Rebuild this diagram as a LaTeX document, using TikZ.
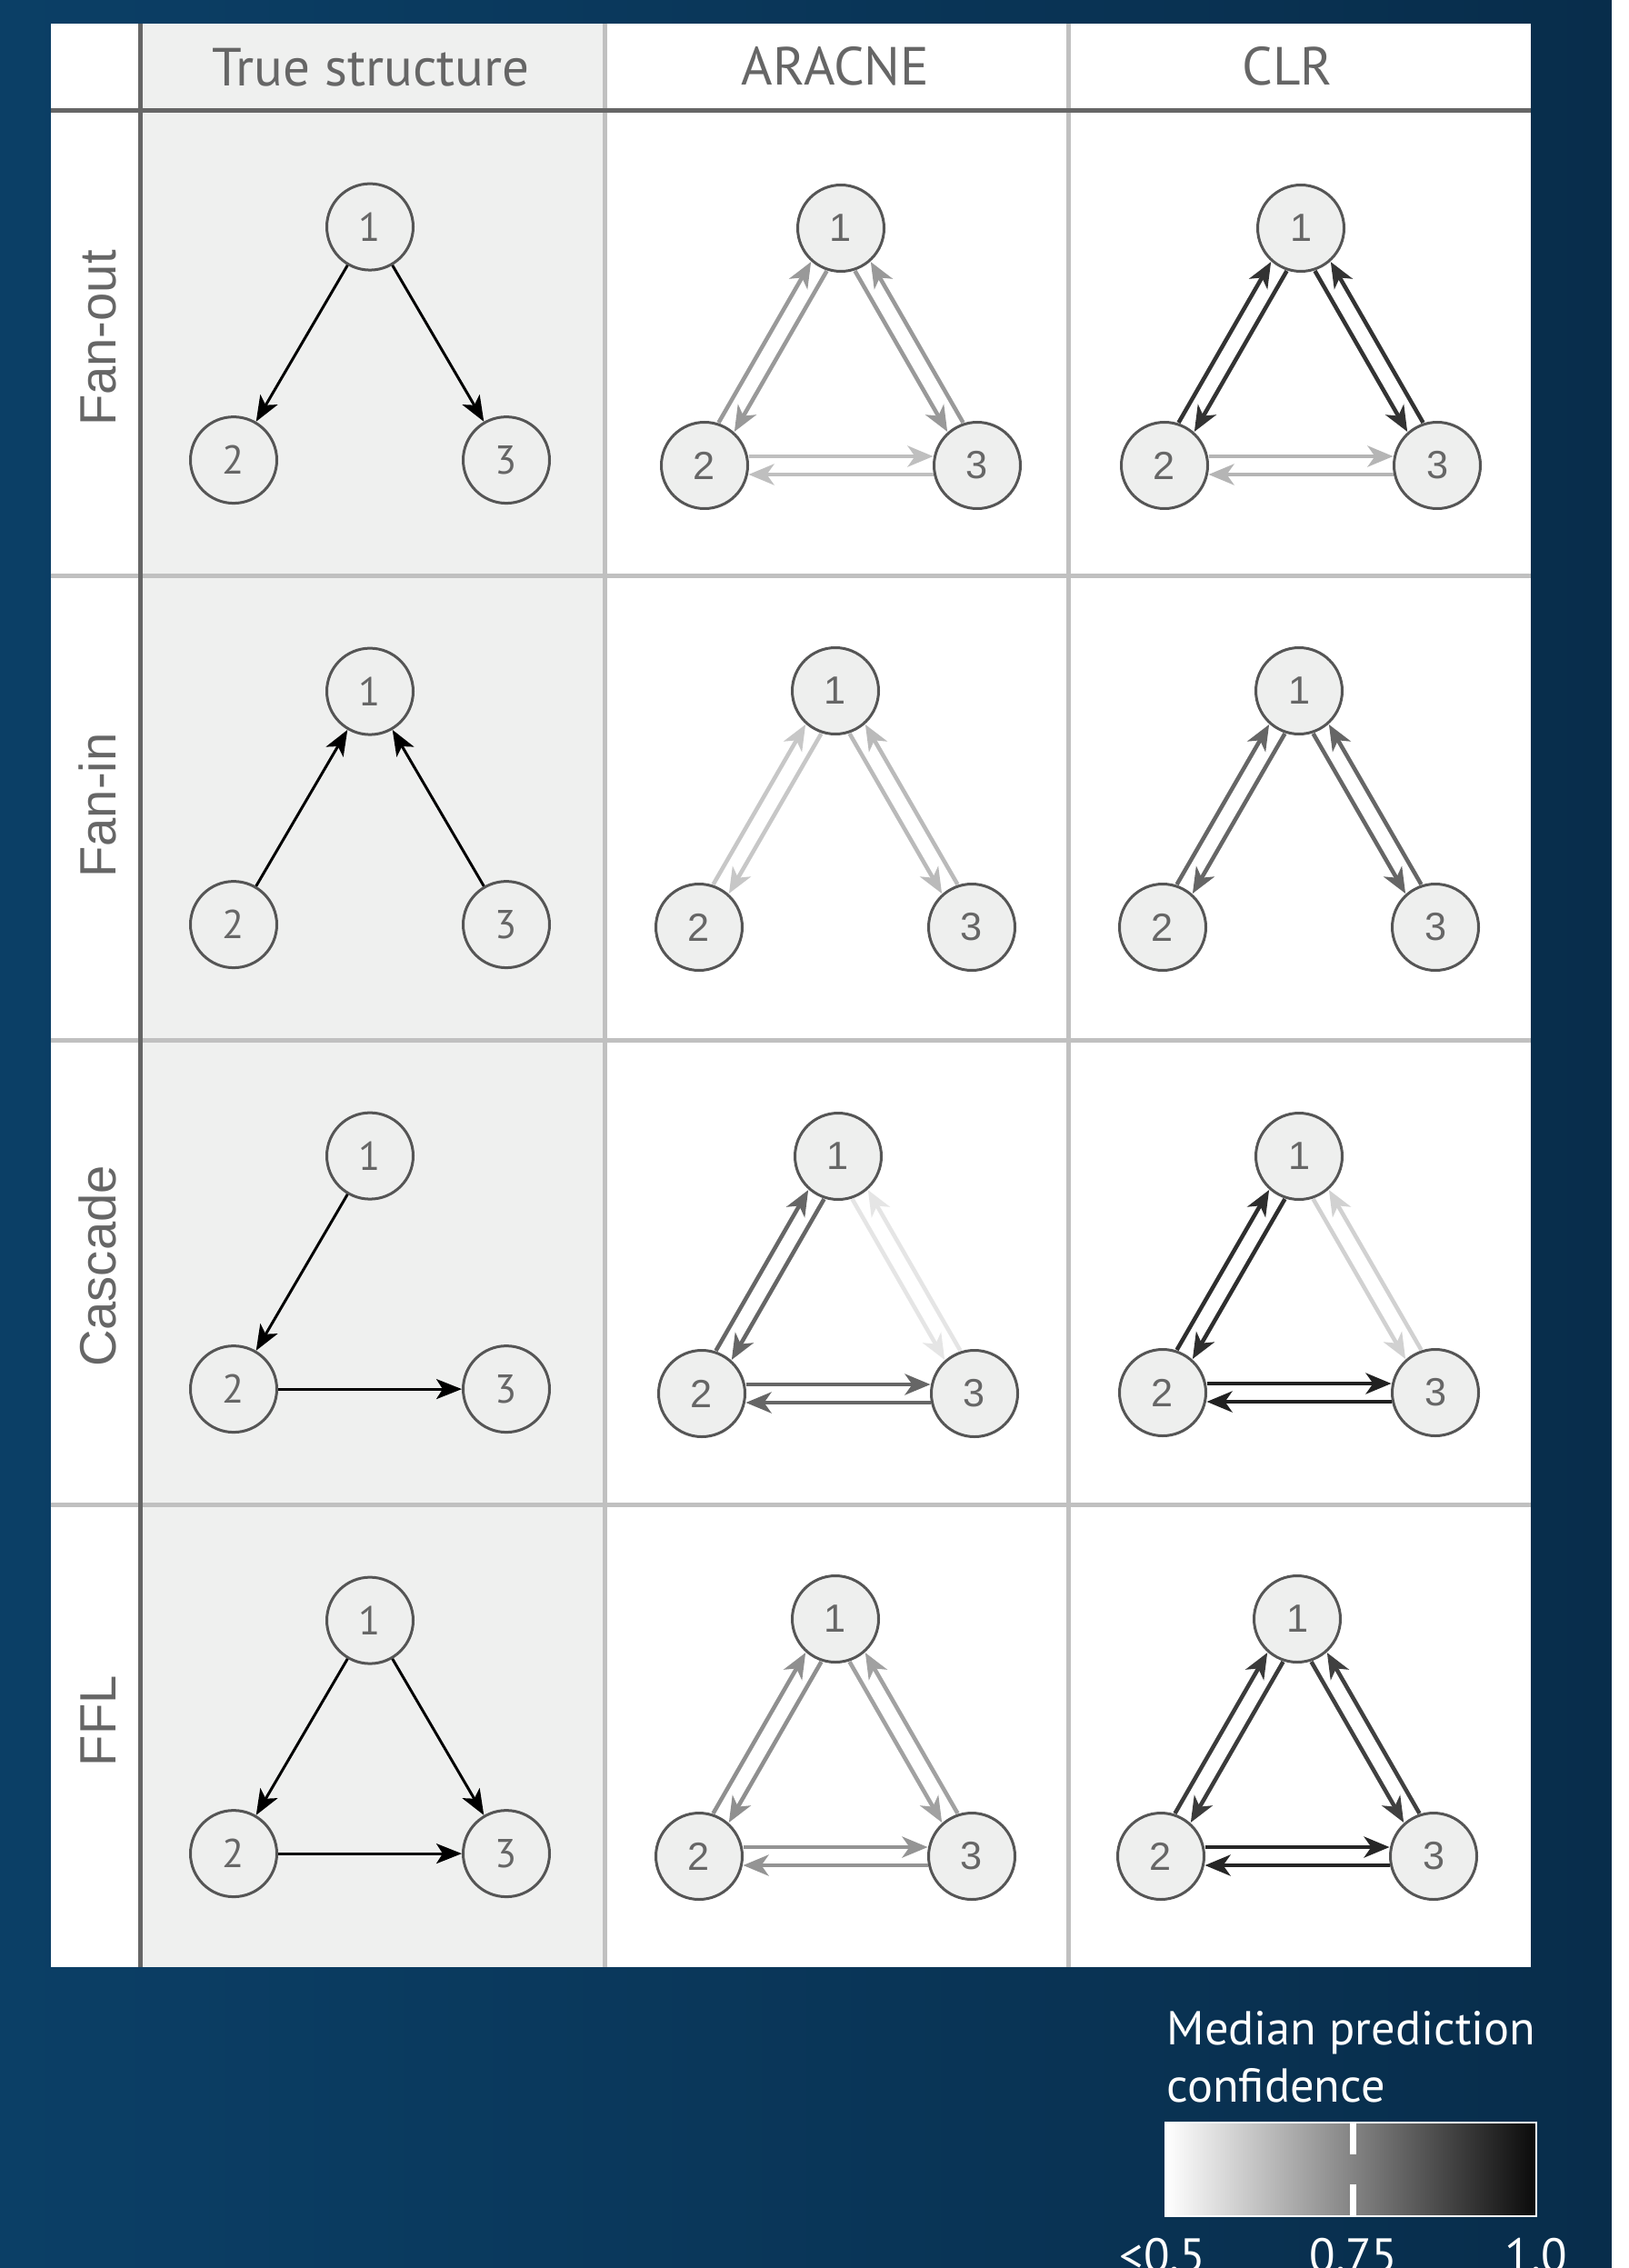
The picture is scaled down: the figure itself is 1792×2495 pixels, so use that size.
\documentclass[tikz,border=0pt]{standalone}
\usepackage{fontspec}
\setmainfont{PT Sans}
\newfontfamily\helv{Liberation Sans}
\usepackage{tikz}
\usetikzlibrary{arrows.meta, calc, positioning}

\definecolor{bgleft}{HTML}{0B3F66}
\definecolor{bgright}{HTML}{082D4B}
\definecolor{truefill}{HTML}{EFF0EF}
\definecolor{gridlight}{HTML}{C0C0C0}
\definecolor{griddark}{HTML}{666666}
\definecolor{nodefill}{HTML}{EEEFEE}
\definecolor{nodeline}{HTML}{555555}
\definecolor{labelgray}{HTML}{666666}

\tikzstyle{gene} = [circle, draw=nodeline, fill=nodefill, line width=0.3mm, minimum size=9.5mm, inner sep=0pt, text=labelgray, font=\fontsize{12.6}{13}\selectfont]
\tikzstyle{predgene} = [gene, font=\helv\fontsize{12.3}{13}\selectfont]
\tikzstyle{truelink} = [-{Stealth[length=2.8mm, width=2.2mm, inset=0.7mm]}, line width=0.3mm, black]
\tikzstyle{predlink} = [-{Stealth[length=2.8mm, width=2.3mm, inset=0.8mm]}, line width=0.45mm, shorten <=4.85mm, shorten >=4.85mm]
\tikzstyle{gridline} = [line width=0.5mm]
\tikzstyle{header} = [anchor=base, text=labelgray, font=\fontsize{16.8}{19}\selectfont]
\tikzstyle{rowlabel} = [anchor=base, rotate=90, text=labelgray, font=\helv\fontsize{16}{18}\selectfont]
\tikzstyle{legendtext} = [text=white, font=\fontsize{14.9}{17}\selectfont]

% three genes of one motif: name, style, x and y of gene 1, drop to genes 2 and 3
\newcommand{\motif}[5]{%
  \node[#2] (#11) at (#3,#4) {1};
  \node[#2] (#12) at (#3-150,#4+#5) {2};
  \node[#2] (#13) at (#3+150,#4+#5) {3};
}
% both directions of a predicted edge: #1 -> #2 on side #3, colour #4
\newcommand{\duo}[4]{%
  \draw[predlink, #4] ($(#1)!1mm!#3:(#2)$) -- ($(#2)!1mm!-#3:(#1)$);
  \draw[predlink, #4] ($(#2)!1mm!#3:(#1)$) -- ($(#1)!1mm!-#3:(#2)$);
}

\begin{document}
\begin{tikzpicture}[x=0.1mm, y=-0.1mm]
  \useasboundingbox (0,0) rectangle (1792,2495);
  \clip (0,0) rectangle (1792,2495);
  \shade[left color=bgleft, right color=bgright] (0,0) rectangle (1773,2495);
  \fill[white] (1773,0) rectangle (1792,2495);

  % table
  \fill[white] (56,25.7) rectangle (1684,2164);
  \fill[truefill] (154,25.7) rectangle (665,2164);
  \foreach \x in {665,1175}
    \draw[gridline, gridlight] (\x,25.7) -- (\x,2164);
  \foreach \y in {633,1144,1655}
    \draw[gridline, gridlight] (56,\y) -- (1684,\y);
  \draw[gridline, griddark] (154,25.7) -- (154,2164);
  \draw[gridline, griddark] (56,122) -- (1684,122);

  \node[header] (hdtrue) at (408,94.5) {True structure};
  \node[header] (hdaracne) at (919,94) {ARACNE};
  \node[header] (hdclr) at (1416,94) {CLR};

  \node[rowlabel] (rowA) at (127,372) {Fan-out};
  \node[rowlabel] (rowB) at (127,886) {Fan-in};
  \node[rowlabel] (rowC) at (127,1393) {Cascade};
  \node[rowlabel] (rowD) at (127,1893) {FFL};

  % true structure
  \motif{tA}{gene}{407}{249.6}{256.5}
  \motif{tB}{gene}{407}{760.6}{256.5}
  \motif{tC}{gene}{407}{1271.6}{256.5}
  \motif{tD}{gene}{407}{1782.6}{256.5}
  \draw[truelink] (tA1) -- (tA2);
  \draw[truelink] (tA1) -- (tA3);
  \draw[truelink] (tB2) -- (tB1);
  \draw[truelink] (tB3) -- (tB1);
  \draw[truelink] (tC1) -- (tC2);
  \draw[truelink] (tC2) -- (tC3);
  \draw[truelink] (tD1) -- (tD2);
  \draw[truelink] (tD1) -- (tD3);
  \draw[truelink] (tD2) -- (tD3);

  % ARACNE
  \motif{aA}{predgene}{925}{251}{261}
  \motif{aB}{predgene}{919}{760}{260}
  \motif{aC}{predgene}{922}{1272}{261}
  \motif{aD}{predgene}{919}{1781}{261}
  \duo{aA1}{aA2}{90}{black!40}
  \duo{aA1}{aA3}{270}{black!40}
  \duo{aA2}{aA3}{90}{black!25}
  \duo{aB1}{aB2}{90}{black!22}
  \duo{aB1}{aB3}{270}{black!27}
  \duo{aC1}{aC2}{90}{black!60}
  \duo{aC1}{aC3}{270}{black!10}
  \duo{aC2}{aC3}{90}{black!60}
  \duo{aD1}{aD2}{90}{black!44}
  \duo{aD1}{aD3}{270}{black!37}
  \duo{aD2}{aD3}{90}{black!42}

  % CLR
  \motif{cA}{predgene}{1431}{251}{261}
  \motif{cB}{predgene}{1429}{760}{260}
  \motif{cC}{predgene}{1429}{1272}{260}
  \motif{cD}{predgene}{1427}{1781}{261}
  \duo{cA1}{cA2}{90}{black!80}
  \duo{cA1}{cA3}{270}{black!80}
  \duo{cA2}{cA3}{90}{black!29}
  \duo{cB1}{cB2}{90}{black!60}
  \duo{cB1}{cB3}{270}{black!60}
  \duo{cC1}{cC2}{90}{black!82}
  \duo{cC1}{cC3}{270}{black!18}
  \duo{cC2}{cC3}{90}{black!87}
  \duo{cD1}{cD2}{90}{black!77}
  \duo{cD1}{cD3}{270}{black!75}
  \duo{cD2}{cD3}{90}{black!85}

  % legend
  \node[legendtext, anchor=base west, inner sep=0pt] (legtitle) at (1283,2249) {Median prediction};
  \node[legendtext, anchor=base west, inner sep=0pt] (legtitle2) at (1283,2312) {confidence};
  \shade[left color=white, right color=black!96] (1282,2335) rectangle (1690,2438);
  \draw[white, line width=0.25mm] (1282,2335) rectangle (1690,2438);
  \draw[white, line width=0.7mm] (1488,2335) -- (1488,2370);
  \draw[white, line width=0.7mm] (1488,2403) -- (1488,2438);
  \node[legendtext, anchor=base] (leglow) at (1279,2499) {<0.5};
  \node[legendtext, anchor=base] (legmid) at (1489,2499) {0.75};
  \node[legendtext, anchor=base] (leghigh) at (1690,2499) {1.0};
\end{tikzpicture}
\end{document}
